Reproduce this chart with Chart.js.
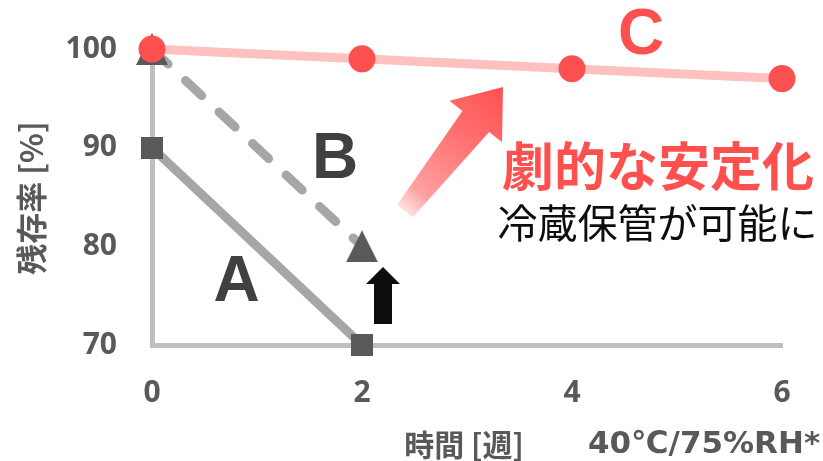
<!DOCTYPE html>
<html>
<head>
<meta charset="utf-8">
<script src="https://cdn.jsdelivr.net/npm/chart.js@4.4.1/dist/chart.umd.min.js"></script>
<style>
html,body{margin:0;padding:0;background:#fff;}
#wrap{width:823px;height:461px;position:relative;}
</style>
</head>
<body>
<div id="wrap"><canvas id="c"></canvas></div>
<script>
// ---- data ----
const weeksAB = [0, 2];
const seriesA = [90, 70];
const seriesB = [100, 80];
const weeksC = [0, 2, 4, 6];
const seriesC = [100, 99, 98, 97];
const xTicks = [0, 2, 4, 6];
const yTicks = [70, 80, 90, 100];
const yTitle = '残存率 [%]';
const xTitle = '時間 [週]';
const condition = '40℃/75%RH*';
const labelA = 'A', labelB = 'B', labelC = 'C';
const headline = '劇的な安定化';
const subline = '冷蔵保管が可能に';

const GRAY_TXT = '#595959';
const RED = '#ff5050';

function makeTri(w, h, color) {
  const c = document.createElement('canvas'); c.width = w; c.height = h;
  const g = c.getContext('2d'); g.fillStyle = color;
  g.beginPath(); g.moveTo(w / 2, 0); g.lineTo(w, h); g.lineTo(0, h); g.closePath(); g.fill();
  return c;
}
function makeSq(s, color) {
  const c = document.createElement('canvas'); c.width = s; c.height = s;
  const g = c.getContext('2d'); g.fillStyle = color; g.fillRect(0, 0, s, s);
  return c;
}
const triImg = makeTri(32, 32, '#595959');
const sqImg = makeSq(22, '#595959');

const pts = (xs, ys) => xs.map((x, i) => ({ x: x, y: ys[i] }));

const annot = {
  id: 'annot',
  afterDatasetsDraw(chart) {
    const ctx = chart.ctx, xs = chart.scales.x, ys = chart.scales.y;
    const X = v => xs.getPixelForValue(v), Y = v => ys.getPixelForValue(v);
    ctx.save();
    // big letters
    ctx.textAlign = 'center'; ctx.textBaseline = 'middle';
    ctx.font = 'bold 64px "Liberation Sans", Arial, sans-serif';
    ctx.fillStyle = '#404040';
    ctx.fillText(labelA, X(0.805), Y(76.2));
    ctx.fillText(labelB, X(1.743), Y(88.7));
    ctx.fillStyle = RED;
    ctx.fillText(labelC, X(4.657), Y(101.3));

    // red gradient arrow
    const tx = X(2.41), ty = Y(83.58), hx = X(3.343), hy = Y(96.15);
    const dx = hx - tx, dy = hy - ty, L = Math.hypot(dx, dy);
    const ux = dx / L, uy = dy / L, nx = -uy, ny = ux;
    const headL = 44, headW = 67, shaftH = 34, shaftT = 20;
    const bx = hx - ux * headL, by = hy - uy * headL;
    const grad = ctx.createLinearGradient(tx, ty, hx, hy);
    grad.addColorStop(0, 'rgba(255,190,190,0.5)');
    grad.addColorStop(0.15, '#ffa0a0');
    grad.addColorStop(0.6, '#ff7070');
    grad.addColorStop(1, '#ff5050');
    ctx.fillStyle = grad;
    ctx.beginPath();
    ctx.moveTo(tx + nx * shaftT / 2, ty + ny * shaftT / 2);
    ctx.lineTo(bx + nx * shaftH / 2, by + ny * shaftH / 2);
    ctx.lineTo(bx + nx * headW / 2, by + ny * headW / 2);
    ctx.lineTo(hx, hy);
    ctx.lineTo(bx - nx * headW / 2, by - ny * headW / 2);
    ctx.lineTo(bx - nx * shaftH / 2, by - ny * shaftH / 2);
    ctx.lineTo(tx - nx * shaftT / 2, ty - ny * shaftT / 2);
    ctx.closePath(); ctx.fill();

    // black up arrow
    const ax = X(2.2), atop = Y(77.9), abot = Y(72.13);
    ctx.fillStyle = '#0d0d0d';
    ctx.beginPath();
    ctx.moveTo(ax, atop);
    ctx.lineTo(ax + 17, atop + 17);
    ctx.lineTo(ax + 9, atop + 17);
    ctx.lineTo(ax + 9, abot);
    ctx.lineTo(ax - 9, abot);
    ctx.lineTo(ax - 9, atop + 17);
    ctx.lineTo(ax - 17, atop + 17);
    ctx.closePath(); ctx.fill();

    // texts
    ctx.textAlign = 'left'; ctx.textBaseline = 'middle';
    ctx.fillStyle = RED;
    ctx.font = 'bold 52px "Noto Sans CJK JP", sans-serif';
    ctx.fillText(headline, X(3.333), Y(88.14));
    ctx.fillStyle = '#0d0d0d';
    ctx.font = '40px "Noto Sans CJK JP", sans-serif';
    ctx.fillText(subline, X(3.29), Y(82.36));

    // axis titles
    ctx.fillStyle = GRAY_TXT;
    ctx.textAlign = 'center';
    ctx.font = 'bold 31px "Noto Sans CJK JP", sans-serif';
    ctx.save();
    ctx.translate(31, 198);
    ctx.rotate(-Math.PI / 2);
    ctx.fillText(yTitle, 0, 0);
    ctx.restore();
    ctx.font = 'bold 30px "Noto Sans CJK JP", sans-serif';
    ctx.fillText(xTitle, 464, 445);
    ctx.font = 'bold 31px "DejaVu Sans", "Noto Sans CJK JP", sans-serif';
    ctx.fillText(condition, 704, 445);
    ctx.restore();
  }
};

const hiddenGrid = (len) => ({ display: true, color: 'rgba(0,0,0,0)', drawOnChartArea: false, drawTicks: true, tickLength: len });

new Chart(document.getElementById('c'), {
  type: 'line',
  data: {
    datasets: [
      {
        label: 'C', data: pts(weeksC, seriesC), order: 0,
        borderColor: '#ffc0c0', borderWidth: 9, tension: 0.25,
        pointStyle: 'circle', pointRadius: 13.5, pointBackgroundColor: RED,
        pointBorderWidth: 0, clip: false
      },
      {
        label: 'B', data: pts(weeksAB, seriesB), order: 1,
        borderColor: '#a6a6a6', borderWidth: 9, borderDash: [22, 24], borderCapStyle: 'round',
        pointStyle: triImg, pointRadius: 16, clip: false
      },
      {
        label: 'A', data: pts(weeksAB, seriesA), order: 2,
        borderColor: '#a6a6a6', borderWidth: 9,
        pointStyle: sqImg, pointRadius: 11, clip: false
      }
    ]
  },
  options: {
    responsive: true, maintainAspectRatio: false, animation: false,
    devicePixelRatio: 1,
    layout: { padding: { top: 49, right: 41, left: 0, bottom: 0 } },
    plugins: { legend: { display: false }, tooltip: { enabled: false } },
    scales: {
      x: {
        type: 'linear', min: 0, max: 6,
        afterBuildTicks: s => { s.ticks = xTicks.map(v => ({ value: v })); },
        afterFit: s => { s.height = 116; },
        grid: hiddenGrid(30),
        border: { display: true, color: '#bfbfbf', width: 5 },
        ticks: { padding: 0, color: GRAY_TXT, font: { family: '"Open Sans", sans-serif', weight: 'bold', size: 30 } }
      },
      y: {
        type: 'linear', min: 70, max: 100,
        afterBuildTicks: s => { s.ticks = yTicks.map(v => ({ value: v })); },
        afterFit: s => { s.width = 152; },
        grid: hiddenGrid(35),
        border: { display: true, color: '#bfbfbf', width: 5 },
        ticks: { padding: 0, color: GRAY_TXT, font: { family: '"Open Sans", sans-serif', weight: 'bold', size: 30 } }
      }
    }
  },
  plugins: [annot]
});
</script>
</body>
</html>
